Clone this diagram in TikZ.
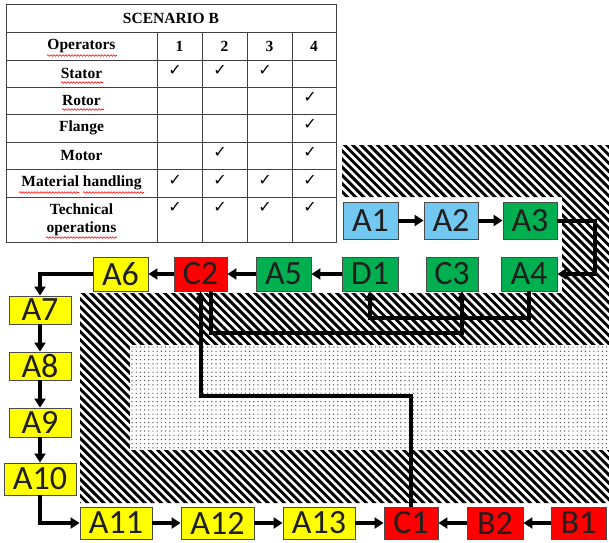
\documentclass[tikz,border=0pt]{standalone}
\usepackage{fontspec}
\setmainfont{Liberation Serif}
\newfontfamily\boxfont{Carlito}
\newfontfamily\symfont{DejaVu Sans}
\usetikzlibrary{arrows.meta,decorations.pathmorphing}

\definecolor{skyb}{HTML}{72C8F0}
\definecolor{grn}{HTML}{00B050}
\definecolor{rd}{HTML}{FF0000}
\definecolor{yl}{HTML}{FFFF00}

\begin{document}
\begin{tikzpicture}[x=1pt,y=-1pt,
  stepbox/.style={draw=black!70, line width=0.9pt, inner sep=0pt,
    font=\boxfont\fontsize{34}{34}\selectfont, text=black!88},
  bbox/.style={stepbox, fill=skyb},
  gbox/.style={stepbox, fill=grn},
  rbox/.style={stepbox, fill=rd},
  ybox/.style={stepbox, fill=yl},
  conn/.style={line width=4pt, -{Triangle[length=9pt,width=11pt]}},
  tabtxt/.style={font=\bfseries\fontsize{15.5}{18}\selectfont, inner sep=0pt, align=center},
  chk/.style={font=\symfont\fontsize{16}{16}\selectfont, inner sep=0pt},
  grid/.style={draw=black!75, line width=0.8pt},
  squig/.style={red, line width=0.6pt, decorate,
    decoration={snake, segment length=3pt, amplitude=0.8pt}}
]
\useasboundingbox (0,0) rectangle (609,542);
\fill[white] (0,0) rectangle (609,542);

% ---------- hatched floor zone ----------
\begin{scope}
  \clip (342,145) -- (609,145) -- (609,503) -- (80,503) -- (80,293)
        -- (562,293) -- (562,197) -- (342,197) -- cycle;
  \foreach \i in {0,...,112}
    \draw[line width=2.9pt] ({-340+\i*8.2},100) -- ++(460,460);
\end{scope}

% ---------- dotted zone ----------
\fill[white] (130,345) rectangle (609,450);
\fill[black!70] \foreach \x in {0,...,113} {\foreach \y in {0,...,24}
  {({132+\x*4.2},{347+\y*4.2}) circle (0.7)}};

% ---------- table ----------
\draw[grid] (6,4) rectangle (336,242);
\foreach \yy in {32,60,87,114,142,169,197}
  \draw[grid] (6,\yy) -- (336,\yy);
\foreach \xx in {157,202,247,292}
  \draw[grid] (\xx,32) -- (\xx,242);

\node[tabtxt] (title) at (171,18) {SCENARIO B};
\node[tabtxt] (hOp) at (81.5,46) {Operators};
\node[tabtxt] (h1) at (179.5,46) {1};
\node[tabtxt] (h2) at (224.5,46) {2};
\node[tabtxt] (h3) at (269.5,46) {3};
\node[tabtxt] (h4) at (314,46) {4};
\node[tabtxt] (rSt) at (81.5,73.5) {Stator};
\node[tabtxt] (rRo) at (81.5,100.5) {Rotor};
\node[tabtxt] (rFl) at (81.5,128) {Flange};
\node[tabtxt] (rMo) at (81.5,155.5) {Motor};
\node[tabtxt] (rMh) at (81.5,183) {Material handling};
\node[tabtxt] (rTo) at (81.5,219.5) {Technical\\operations};

% spell-check squiggles under some labels
\draw[squig] (47,55.5) -- (117,55.5);
\draw[squig] (61,82.5) -- (103,82.5);
\draw[squig] (62,109.5) -- (104,109.5);
\draw[squig] (19,192.5) -- (79,192.5);
\draw[squig] (83,192.5) -- (144,192.5);
\draw[squig] (46,237.5) -- (117,237.5);

% check marks: row y / column x
\foreach \cx/\cy/\nm in {175/70/a1, 220/70/a2, 265/70/a3,
    310/97/b4, 310/124/c4,
    220/152/d2, 310/152/d4,
    175/180/e1, 220/180/e2, 265/180/e3, 310/180/e4,
    175/207/f1, 220/207/f2, 265/207/f3, 310/207/f4}
  \node[chk] (ck\nm) at (\cx,\cy) {✓};

% ---------- process boxes ----------
\node[bbox, minimum width=55pt, minimum height=37pt] (A1) at (370.5,220.5) {A1};
\node[bbox, minimum width=54pt, minimum height=37pt] (A2) at (451,220.5) {A2};
\node[gbox, minimum width=54pt, minimum height=37pt] (A3) at (530,220.5) {A3};

\node[gbox, minimum width=56pt, minimum height=34pt] (A4) at (529,274) {A4};
\node[gbox, minimum width=52pt, minimum height=34pt] (C3) at (452,274) {C3};
\node[gbox, minimum width=56pt, minimum height=34pt] (D1) at (370,274) {D1};
\node[gbox, minimum width=55pt, minimum height=34pt] (A5) at (283.5,274) {A5};
\node[rbox, minimum width=53pt, minimum height=34pt] (C2) at (200.5,274) {C2};
\node[ybox, minimum width=55pt, minimum height=34pt] (A6) at (120.5,274) {A6};

\node[ybox, minimum width=62pt, minimum height=28pt] (A7) at (40,310) {A7};
\node[ybox, minimum width=62pt, minimum height=28pt] (A8) at (40,366) {A8};
\node[ybox, minimum width=62pt, minimum height=29pt] (A9) at (40,422.5) {A9};
\node[ybox, minimum width=72pt, minimum height=32pt] (A10) at (40,479) {A10};

\node[ybox, minimum width=72pt, minimum height=32pt] (A11) at (116,523) {A11};
\node[ybox, minimum width=73pt, minimum height=32pt] (A12) at (217.5,523) {A12};
\node[ybox, minimum width=72pt, minimum height=32pt] (A13) at (319,523) {A13};
\node[rbox, minimum width=54pt, minimum height=32pt] (C1) at (411,523) {C1};
\node[rbox, minimum width=56pt, minimum height=32pt] (B2) at (495,523) {B2};
\node[rbox, minimum width=55pt, minimum height=32pt] (B1) at (578.5,523) {B1};

% ---------- flow connectors ----------
\draw[conn] (A1) -- (A2);
\draw[conn] (A2) -- (A3);
\draw[conn] (A3.east) -- ++(38,0) |- (A4.east);
\draw[conn] (A4.south) -- ++(0,27) -| (D1.south);
\draw[conn] (D1) -- (A5);
\draw[conn] (A5) -- (C2);
\draw[conn] (C2) -- (A6);
\draw[conn] ([xshift=10pt]C2.south) -- ++(0,42) -| ([xshift=10pt]C3.south);
\draw[conn] (A6.west) -| (A7.north);
\draw[conn] (A7) -- (A8);
\draw[conn] (A8) -- (A9);
\draw[conn] (A9) -- (A10);
\draw[conn] (A10.south) |- (A11.west);
\draw[conn] (A11) -- (A12);
\draw[conn] (A12) -- (A13);
\draw[conn] (A13) -- (C1);
\draw[conn] (B1) -- (B2);
\draw[conn] (B2) -- (C1);
\draw[conn] (C1.north) -- ++(0,-111) -| (C2.south);
\end{tikzpicture}
\end{document}
